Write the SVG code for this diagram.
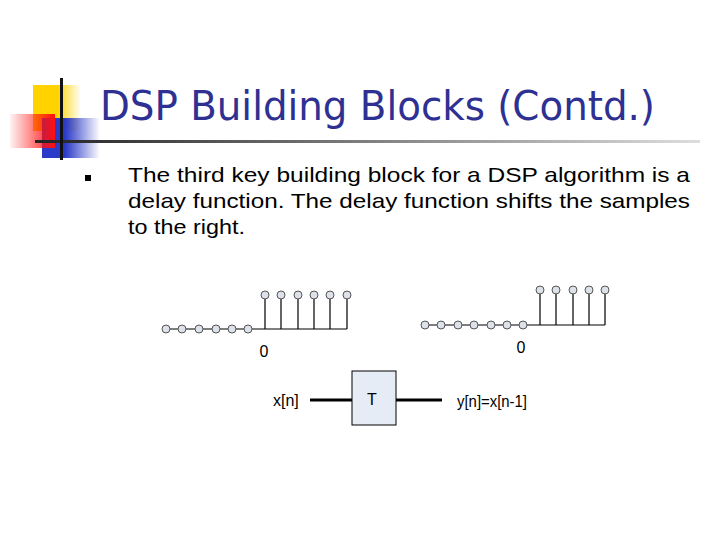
<svg xmlns="http://www.w3.org/2000/svg" width="720" height="540" viewBox="0 0 720 540">
<defs>
<linearGradient id="yg" x1="0" x2="1"><stop offset="0.5" stop-color="#FFD200"/><stop offset="1" stop-color="#FFD200" stop-opacity="0"/></linearGradient>
<linearGradient id="bg" x1="0" x2="1"><stop offset="0.4" stop-color="#2B3BC8"/><stop offset="1" stop-color="#2B3BC8" stop-opacity="0"/></linearGradient>
<linearGradient id="rg" x1="1" x2="0"><stop offset="0" stop-color="#FF1010"/><stop offset="1" stop-color="#FF1010" stop-opacity="0.05"/></linearGradient>
<linearGradient id="lg" x1="0" x2="1"><stop offset="0" stop-color="#222"/><stop offset="1" stop-color="#ddd"/></linearGradient>
<style>
.t{font-family:"Liberation Sans",Arial,sans-serif;fill:#000}
.c{fill:#dde2ea;stroke:#555;stroke-width:1}
.s{stroke:#000;stroke-width:1.2;fill:none}
</style>
</defs>
<g id="decor">
<rect x="33" y="85" width="48" height="46" fill="url(#yg)"/>
<rect x="42" y="118" width="58" height="40" fill="url(#bg)"/>
<rect x="10" y="114" width="45" height="34" fill="url(#rg)"/>
<rect x="35" y="140" width="665" height="3" fill="url(#lg)"/>
<rect x="60" y="78" width="3" height="82" fill="#111"/>
</g>
<text x="100" y="120" font-size="40" font-family="'DejaVu Sans',sans-serif" fill="#2E3192" textLength="555" lengthAdjust="spacingAndGlyphs">DSP Building Blocks (Contd.)</text>
<rect x="85" y="175" width="6" height="6" fill="#000"/>
<g class="t" font-size="21">
<text x="128" y="182" textLength="562" lengthAdjust="spacingAndGlyphs">The third key building block for a DSP algorithm is a</text>
<text x="128" y="208" textLength="562" lengthAdjust="spacingAndGlyphs">delay function. The delay function shifts the samples</text>
<text x="128" y="234" textLength="117" lengthAdjust="spacingAndGlyphs">to the right.</text>
</g>
<g id="connectors">
<path class="s" d="M166 329H347M265 329V299M281 329V299M298 329V299M314 329V299M330 329V299M347 329V299"/>
<path class="s" d="M425 325H605M540 325V294M556 325V294M573 325V294M589 325V294M605 325V294"/>
<path stroke="#000" stroke-width="3" d="M310 400H352M396 400H442"/>
</g>
<g id="xsig">
<circle class="c" cx="166" cy="329" r="4"/><circle class="c" cx="182" cy="329" r="4"/><circle class="c" cx="199" cy="329" r="4"/><circle class="c" cx="216" cy="329" r="4"/><circle class="c" cx="232" cy="329" r="4"/><circle class="c" cx="248" cy="329" r="4"/>
<circle class="c" cx="265" cy="295" r="4"/><circle class="c" cx="281" cy="295" r="4"/><circle class="c" cx="298" cy="295" r="4"/><circle class="c" cx="314" cy="295" r="4"/><circle class="c" cx="330" cy="295" r="4"/><circle class="c" cx="347" cy="295" r="4"/>
<text class="t" x="264" y="357" font-size="16" text-anchor="middle">0</text>
</g>
<g id="ysig">
<circle class="c" cx="425" cy="325" r="4"/><circle class="c" cx="441" cy="325" r="4"/><circle class="c" cx="458" cy="325" r="4"/><circle class="c" cx="474" cy="325" r="4"/><circle class="c" cx="491" cy="325" r="4"/><circle class="c" cx="507" cy="325" r="4"/><circle class="c" cx="523" cy="325" r="4"/>
<circle class="c" cx="540" cy="290" r="4"/><circle class="c" cx="556" cy="290" r="4"/><circle class="c" cx="573" cy="290" r="4"/><circle class="c" cx="589" cy="290" r="4"/><circle class="c" cx="605" cy="290" r="4"/>
<text class="t" x="521" y="353" font-size="16" text-anchor="middle">0</text>
</g>
<g id="delay">
<rect x="352" y="371" width="44" height="54" fill="#e6ecf6" stroke="#000"/>
<text class="t" x="372" y="405" font-size="16" text-anchor="middle">T</text>
</g>
<text class="t" x="273" y="406" font-size="16">x[n]</text>
<text class="t" x="457" y="407" font-size="16" textLength="70" lengthAdjust="spacingAndGlyphs">y[n]=x[n-1]</text>
</svg>
